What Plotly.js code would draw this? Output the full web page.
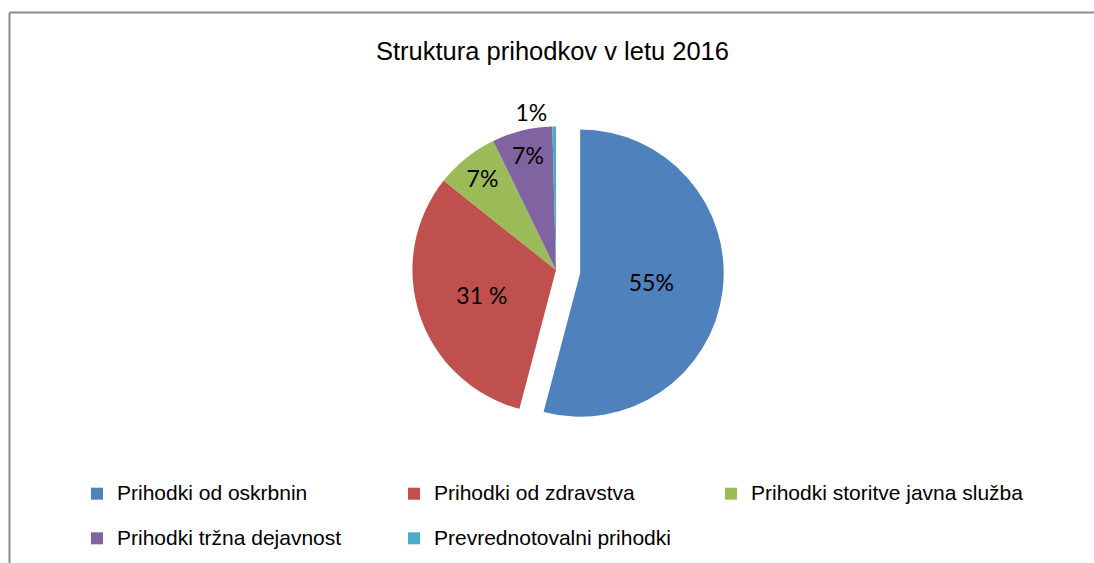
<!DOCTYPE html>
<html>
<head>
<meta charset="utf-8">
<script src="https://cdn.plot.ly/plotly-3.0.1.min.js"></script>
<style>html,body{margin:0;padding:0;background:#fff;}#chart{width:1094px;height:563px;}</style>
</head>
<body>
<div id="chart"></div>
<script>
// Data
var categories = [
  'Prihodki od oskrbnin',
  'Prihodki od zdravstva',
  'Prihodki storitve javna služba',
  'Prihodki tržna dejavnost',
  'Prevrednotovalni prihodki'
];
var shares = [54.1, 31.6, 7.1, 6.8, 0.4];
var labelTexts = ['55%', '31 %', '7%', '7%', '1%'];
var colors = ['#4F81BD', '#C0504D', '#9BBB59', '#8064A2', '#4BACC6'];
var pulls = [0.17, 0, 0, 0, 0];
var textPositions = ['inside', 'inside', 'inside', 'inside', 'outside'];

// legend entries: a blank first line gives the wide row spacing, the label sits on the second line
var legendLabels = categories.map(function (c) {
  return ' <br><span style="font-size:21px">' + c + '</span>';
});

var W = 1094, H = 563;

var trace = {
  type: 'pie',
  labels: legendLabels,
  values: shares,
  text: labelTexts,
  textinfo: 'text',
  textposition: textPositions,
  insidetextorientation: 'horizontal',
  hoverinfo: 'skip',
  sort: false,
  direction: 'clockwise',
  rotation: 0,
  pull: pulls,
  marker: { colors: colors, line: { width: 0 } },
  textfont: { family: 'Lato, "Open Sans", sans-serif', size: 23, color: '#000' },
  insidetextfont: { family: 'Lato, "Open Sans", sans-serif', size: 23, color: '#000' },
  outsidetextfont: { family: 'Lato, "Open Sans", sans-serif', size: 23, color: '#000' },
  domain: { x: [0.29, 0.7264], y: [0.2222, 0.8187] }
};

var layout = {
  width: W, height: H,
  margin: { l: 0, r: 0, t: 0, b: 0 },
  paper_bgcolor: '#ffffff',
  plot_bgcolor: '#ffffff',
  title: {
    text: 'Struktura prihodkov v letu 2016',
    font: { family: '"Liberation Sans", Arial, sans-serif', size: 25.5, color: '#000' },
    x: 552.5 / W, xanchor: 'center',
    y: 1 - 51 / H, yanchor: 'middle', yref: 'container'
  },
  showlegend: true,
  legend: {
    orientation: 'h',
    x: 77 / W, xanchor: 'left',
    y: 1 - 456 / H, yanchor: 'top',
    font: { family: '"Liberation Sans", Arial, sans-serif', size: 16, color: '#000' },
    entrywidth: 272, entrywidthmode: 'pixels',
    valign: 'bottom',
    itemwidth: 30,
    traceorder: 'normal'
  },
  shapes: [
    { type: 'line', xref: 'paper', yref: 'paper', x0: 9.5 / W, x1: 1, y0: 1 - 12.5 / H, y1: 1 - 12.5 / H,
      line: { color: '#8c8c8c', width: 2 } },
    { type: 'line', xref: 'paper', yref: 'paper', x0: 9.5 / W, x1: 9.5 / W, y0: 0, y1: 1 - 12.5 / H,
      line: { color: '#8c8c8c', width: 2 } }
  ]
};

Plotly.newPlot('chart', [trace], layout, { displayModeBar: false, staticPlot: true });
</script>
</body>
</html>
